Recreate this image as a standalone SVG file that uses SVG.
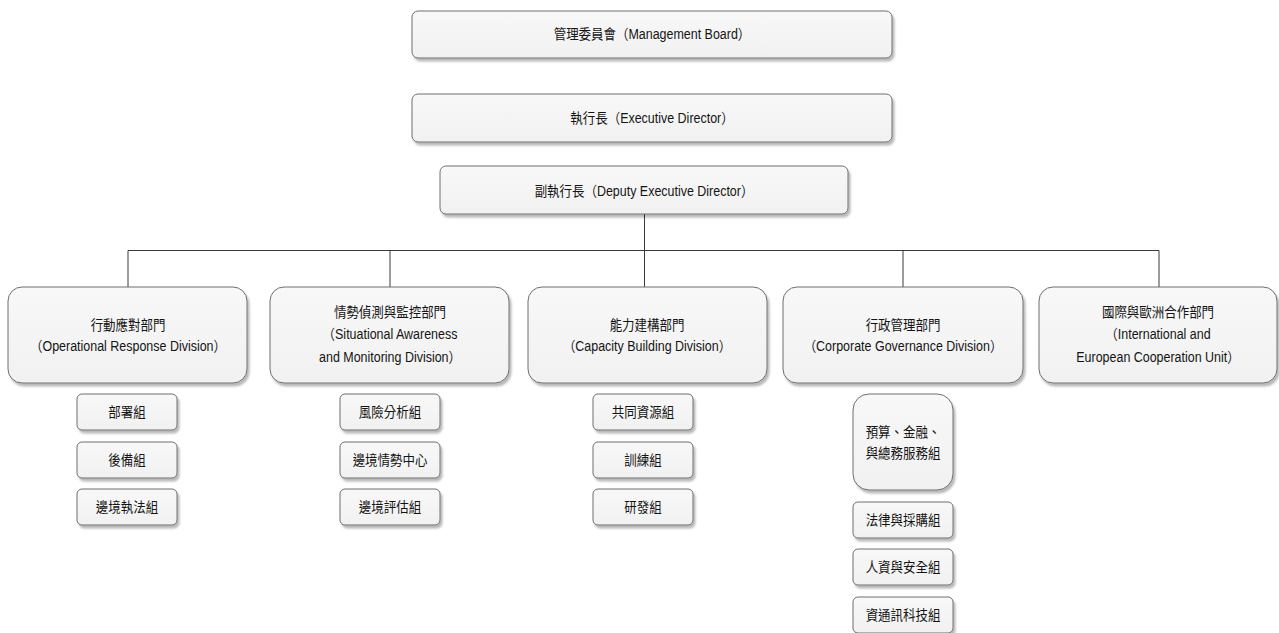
<svg xmlns="http://www.w3.org/2000/svg" width="1279" height="633" viewBox="0 0 1279 633">
<defs>
<filter id="sh" x="-10%" y="-20%" width="120%" height="150%">
<feDropShadow dx="2" dy="3" stdDeviation="1.2" flood-color="#000" flood-opacity="0.28"/>
</filter>
<linearGradient id="g" x1="0" y1="0" x2="0" y2="1">
<stop offset="0" stop-color="#f8f8f8"/>
<stop offset="1" stop-color="#f1f1f1"/>
</linearGradient>
</defs>
<style>
rect{fill:url(#g);stroke:#6e6e6e;stroke-width:1;filter:url(#sh)}
text{font-family:"Liberation Sans","Noto Sans CJK TC",sans-serif;font-size:14px;fill:#141414;text-anchor:middle}
.c line{stroke:#3a3a3a;stroke-width:1}
</style>
<rect x="0" y="0" width="1279" height="633" style="fill:#fff;stroke:none;filter:none"/>
<g class="c" id="connectors">
<line x1="644.5" y1="214" x2="644.5" y2="250.5"/>
<line x1="128" y1="250.5" x2="1159" y2="250.5"/>
<line x1="128" y1="250.5" x2="128" y2="287"/>
<line x1="390" y1="250.5" x2="390" y2="287"/>
<line x1="644.5" y1="250.5" x2="644.5" y2="287"/>
<line x1="903" y1="250.5" x2="903" y2="287"/>
<line x1="1159" y1="250.5" x2="1159" y2="287"/>
</g>
<g id="board"><rect x="412" y="11" width="480" height="47" rx="6"/><text transform="translate(652,39) scale(0.89,1)">管理委員會（Management Board）</text></g>
<g id="exec"><rect x="412" y="94" width="480" height="48" rx="6"/><text transform="translate(652,123) scale(0.89,1)">執行長（Executive Director）</text></g>
<g id="deputy"><rect x="440" y="166" width="408" height="48" rx="6"/><text transform="translate(644,196) scale(0.89,1)">副執行長（Deputy Executive Director）</text></g>

<g id="div1"><rect x="8" y="287" width="239" height="96" rx="14"/><text transform="translate(128,329.5) scale(0.89,1)">行動應對部門</text><text transform="translate(128,350.5) scale(0.89,1)">（Operational Response Division）</text></g>
<g id="div2"><rect x="270" y="287" width="239" height="96" rx="14"/><text transform="translate(390,317) scale(0.89,1)">情勢偵測與監控部門</text><text transform="translate(390,339) scale(0.89,1)">（Situational Awareness</text><text transform="translate(390,362) scale(0.89,1)">and Monitoring Division）</text></g>
<g id="div3"><rect x="528" y="287" width="239" height="96" rx="14"/><text transform="translate(647,329.5) scale(0.89,1)">能力建構部門</text><text transform="translate(647,350.5) scale(0.89,1)">（Capacity Building Division）</text></g>
<g id="div4"><rect x="783" y="287" width="240" height="96" rx="14"/><text transform="translate(903,329.5) scale(0.89,1)">行政管理部門</text><text transform="translate(903,350.5) scale(0.89,1)">（Corporate Governance Division）</text></g>
<g id="div5"><rect x="1039" y="287" width="238" height="96" rx="14"/><text transform="translate(1158,317) scale(0.89,1)">國際與歐洲合作部門</text><text transform="translate(1158,339) scale(0.89,1)">（International and</text><text transform="translate(1158,362) scale(0.89,1)">European Cooperation Unit）</text></g>

<g id="s1a"><rect x="77" y="394" width="100" height="36" rx="5"/><text transform="translate(127,417) scale(0.89,1)">部署組</text></g>
<g id="s1b"><rect x="77" y="442" width="100" height="36" rx="5"/><text transform="translate(127,465) scale(0.89,1)">後備組</text></g>
<g id="s1c"><rect x="77" y="489" width="100" height="36" rx="5"/><text transform="translate(127,512) scale(0.89,1)">邊境執法組</text></g>

<g id="s2a"><rect x="340" y="394" width="100" height="36" rx="5"/><text transform="translate(390,417) scale(0.89,1)">風險分析組</text></g>
<g id="s2b"><rect x="340" y="442" width="100" height="36" rx="5"/><text transform="translate(390,465) scale(0.89,1)">邊境情勢中心</text></g>
<g id="s2c"><rect x="340" y="489" width="100" height="36" rx="5"/><text transform="translate(390,512) scale(0.89,1)">邊境評估組</text></g>

<g id="s3a"><rect x="593" y="394" width="100" height="36" rx="5"/><text transform="translate(643,417) scale(0.89,1)">共同資源組</text></g>
<g id="s3b"><rect x="593" y="442" width="100" height="36" rx="5"/><text transform="translate(643,465) scale(0.89,1)">訓練組</text></g>
<g id="s3c"><rect x="593" y="489" width="100" height="36" rx="5"/><text transform="translate(643,512) scale(0.89,1)">研發組</text></g>

<g id="s4a"><rect x="853" y="394" width="100" height="96" rx="16"/><text transform="translate(903,437) scale(0.89,1)">預算、金融、</text><text transform="translate(903,458) scale(0.89,1)">與總務服務組</text></g>
<g id="s4b"><rect x="853" y="502" width="100" height="36" rx="5"/><text transform="translate(903,525) scale(0.89,1)">法律與採購組</text></g>
<g id="s4c"><rect x="853" y="549" width="100" height="36" rx="5"/><text transform="translate(903,572) scale(0.89,1)">人資與安全組</text></g>
<g id="s4d"><rect x="853" y="597" width="100" height="36" rx="5"/><text transform="translate(903,620) scale(0.89,1)">資通訊科技組</text></g>
</svg>
